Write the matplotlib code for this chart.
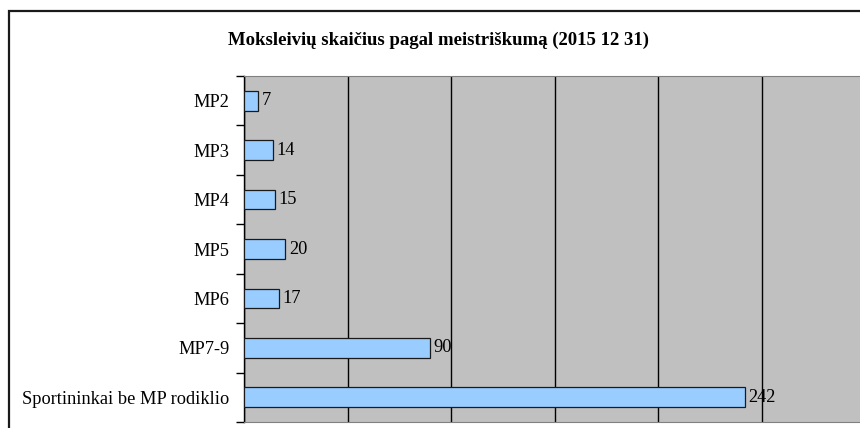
import matplotlib
matplotlib.use("Agg")
import matplotlib.pyplot as plt
from matplotlib.patches import Rectangle
from matplotlib.ticker import FixedLocator, MultipleLocator

categories = ["MP2", "MP3", "MP4", "MP5", "MP6", "MP7-9", "Sportininkai be MP rodiklio"]
values = [7, 14, 15, 20, 17, 90, 242]
title = "Moksleivių skaičius pagal meistriškumą (2015 12 31)"

BAR = "#99CCFF"
PLOT_BG = "#C0C0C0"

plt.rcParams["font.family"] = ["Liberation Serif", "DejaVu Serif"]

fig = plt.figure(figsize=(8.6, 4.28), dpi=100, facecolor="white")
# chart border (runs off the right/bottom like the cropped original)
fig.patches.append(Rectangle((9 / 860, -0.1), 1.2, 1 - 11 / 428 + 0.1,
                             transform=fig.transFigure, fill=False,
                             edgecolor="#1a1a1a", linewidth=1.6))

ax = fig.add_axes([244 / 860, 6 / 428, 621 / 860, 346 / 428])
ax.set_facecolor(PLOT_BG)

y = list(range(len(categories)))
ax.barh(y, values, height=0.4, color=BAR, edgecolor="#1a1a1a", linewidth=0.9, zorder=3)
for yi, v in zip(y, values):
    ax.annotate(str(v), (v, yi), xytext=(2.5, 0), textcoords="offset points",
                va="center", ha="left", fontsize=13.2, color="black", zorder=4)

ax.set_xlim(0, 300)
ax.set_ylim(len(categories) - 0.5, -0.5)
ax.xaxis.set_major_locator(MultipleLocator(50))
ax.grid(axis="x", color="black", linewidth=1.0, zorder=1)
ax.tick_params(axis="x", bottom=False, labelbottom=False)

ax.yaxis.set_major_locator(FixedLocator([i - 0.5 for i in range(len(categories) + 1)]))
ax.yaxis.set_minor_locator(FixedLocator(y))
ax.set_yticklabels([], minor=False)
ax.set_yticklabels(categories, minor=True, fontsize=13.2)
ax.tick_params(axis="y", which="major", length=6, width=1.0, color="black", direction="out")
ax.tick_params(axis="y", which="minor", length=0, pad=10.5)

ax.spines["left"].set_color("black")
ax.spines["left"].set_linewidth(1.0)
ax.spines["bottom"].set_color("#808080")
ax.spines["top"].set_color("#808080")
ax.spines["right"].set_visible(False)

fig.text(438 / 860, 1 - 40 / 428, title, ha="center", va="center",
         fontsize=13.5, fontweight="bold")

fig.savefig("out.png", dpi=100, facecolor="white")
